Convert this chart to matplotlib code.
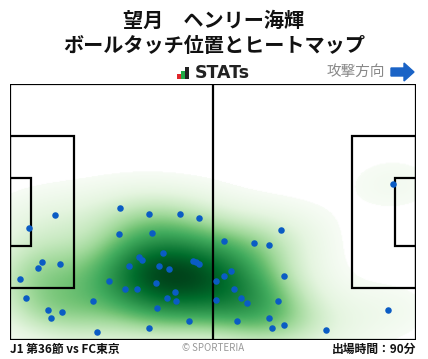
import numpy as np
import matplotlib
matplotlib.use("Agg")
import matplotlib.pyplot as plt
from matplotlib.patches import Rectangle, FancyArrow

plt.rcParams['font.family'] = ['Noto Sans CJK JP', 'DejaVu Sans']

title_line1 = "望月　ヘンリー海輝"
title_line2 = "ボールタッチ位置とヒートマップ"
footer_left = "J1 第36節 vs FC東京"
footer_center = "© SPORTERIA"
footer_right = "出場時間：90分"
direction_label = "攻撃方向"

# touch positions (metres; x along pitch 0-105, y across 0-68 from bottom)
touch_x = [28.5, 36.0, 44.0, 49.0, 11.7, 5.0, 28.3, 36.8, 39.6, 33.4,
           34.2, 47.4, 48.1, 48.8, 8.4, 13.0, 7.3, 30.9, 38.6, 41.2,
           2.7, 25.7, 37.8, 53.4, 29.8, 32.9, 42.7, 40.7, 43.0, 4.2,
           21.5, 53.2, 9.7, 13.5, 10.7, 38.1, 46.4, 36.0, 22.6,
           70.2, 55.4, 63.2, 67.1, 57.2, 55.4, 70.9, 58.0, 59.8, 61.4,
           69.4, 97.8, 58.8, 67.1, 70.9, 67.8, 81.8, 99.1]
touch_y = [35.0, 33.4, 33.4, 32.3, 33.1, 29.7, 28.1, 28.3, 23.0, 22.0,
           21.2, 20.9, 20.6, 20.1, 20.6, 20.1, 19.1, 19.6, 19.6, 18.8,
           16.1, 15.6, 15.1, 15.6, 13.5, 13.5, 12.7, 11.1, 10.3, 11.1,
           10.3, 10.6, 7.9, 7.4, 5.8, 8.4, 5.0, 3.1, 2.1,
           29.1, 26.2, 25.7, 25.2, 18.4, 16.9, 16.9, 13.5, 11.1, 9.8,
           10.3, 7.9, 5.0, 5.8, 3.9, 3.1, 2.6, 41.4]

PITCH_L, PITCH_W = 105.0, 68.0

W, H = 428, 359
fig = plt.figure(figsize=(W / 100, H / 100), dpi=100)
fig.patch.set_facecolor("white")

ax = fig.add_axes([10 / W, (H - 340) / H, 406 / W, 256 / H])
ax.axis("off")

# KDE heatmap (iso-proportion colouring)
tx = np.array(touch_x)
ty = np.array(touch_y)
bw_x, bw_y = 10.0, 6.2
gx = np.linspace(-15, PITCH_L + 15, 520)
gy = np.linspace(-15, PITCH_W + 15, 380)
GX, GY = np.meshgrid(gx, gy)
dens = np.zeros_like(GX)
for x0, y0 in zip(tx, ty):
    dens += np.exp(-0.5 * (((GX - x0) / bw_x) ** 2 + ((GY - y0) / bw_y) ** 2))
flat = dens.ravel()
order = np.argsort(flat)
cum = np.cumsum(flat[order])
cum /= cum[-1]
q = np.empty_like(flat)
q[order] = cum
q = q.reshape(GX.shape)
thresh = 0.04
val = (q - thresh) / (1 - thresh)
val = np.ma.masked_where(q < thresh, val)
cmap = plt.get_cmap("Greens").copy()
cmap.set_bad((1, 1, 1, 0))
ax.imshow(val, extent=(gx[0], gx[-1], gy[0], gy[-1]), origin="lower",
          cmap=cmap, vmin=0, vmax=1, interpolation="bilinear", zorder=1,
          aspect="auto")
ax.set_xlim(0, PITCH_L)
ax.set_ylim(0, PITCH_W)

# pitch lines
lc = "black"
lw = 1.6
ax.add_patch(Rectangle((0, 0), PITCH_L, PITCH_W, fill=False, ec=lc, lw=lw, zorder=3))
ax.plot([PITCH_L / 2, PITCH_L / 2], [0, PITCH_W], color=lc, lw=lw, zorder=3)
pb_w, pb_d = 40.32, 16.5
ga_w, ga_d = 18.32, 5.5
for x0, d in [(0, pb_d), (PITCH_L - pb_d, pb_d)]:
    ax.add_patch(Rectangle((x0, PITCH_W / 2 - pb_w / 2), d, pb_w, fill=False, ec=lc, lw=lw, zorder=3))
for x0, d in [(0, ga_d), (PITCH_L - ga_d, ga_d)]:
    ax.add_patch(Rectangle((x0, PITCH_W / 2 - ga_w / 2), d, ga_w, fill=False, ec=lc, lw=lw, zorder=3))

ax.scatter(tx, ty, s=22, color="#0a5cc4", zorder=4, linewidths=0)

# titles
fig.text(214 / W, 1 - 20 / H, title_line1, ha="center", va="center",
         fontsize=14.5, fontweight="bold", color="#111111")
fig.text(214 / W, 1 - 46 / H, title_line2, ha="center", va="center",
         fontsize=14.5, fontweight="bold", color="#111111")

# STATs logo
lax = fig.add_axes([177 / W, (H - 79) / H, 12 / W, 12 / H])
lax.axis("off")
lax.set_xlim(0, 3)
lax.set_ylim(0, 3)
lax.bar([0.45, 1.45, 2.45], [1.3, 1.9, 3.0], width=0.85,
        color=["#e0262b", "#21a846", "#222222"])
fig.text(195 / W, 1 - 73 / H, "STATs", ha="left", va="center",
         fontsize=12.5, fontweight="bold", color="#222222", family="DejaVu Sans")

fig.text(385 / W, 1 - 72 / H, direction_label, ha="right", va="center",
         fontsize=10.5, color="#888888")
fig.patches.append(FancyArrow(391 / W, 1 - 72 / H, 13 / W, 0, width=8 / H,
                              head_width=18 / H, head_length=10 / W,
                              length_includes_head=False, color="#1a63c6",
                              transform=fig.transFigure, figure=fig))

# footer
fig.text(10 / W, 1 - 349 / H, footer_left, ha="left", va="center",
         fontsize=8.5, fontweight="bold", color="#111111")
fig.text(213 / W, 1 - 348 / H, footer_center, ha="center", va="center",
         fontsize=7, color="#999999")
fig.text(416 / W, 1 - 349 / H, footer_right, ha="right", va="center",
         fontsize=8.5, fontweight="bold", color="#111111")

fig.savefig("out.png", dpi=100, facecolor="white")
